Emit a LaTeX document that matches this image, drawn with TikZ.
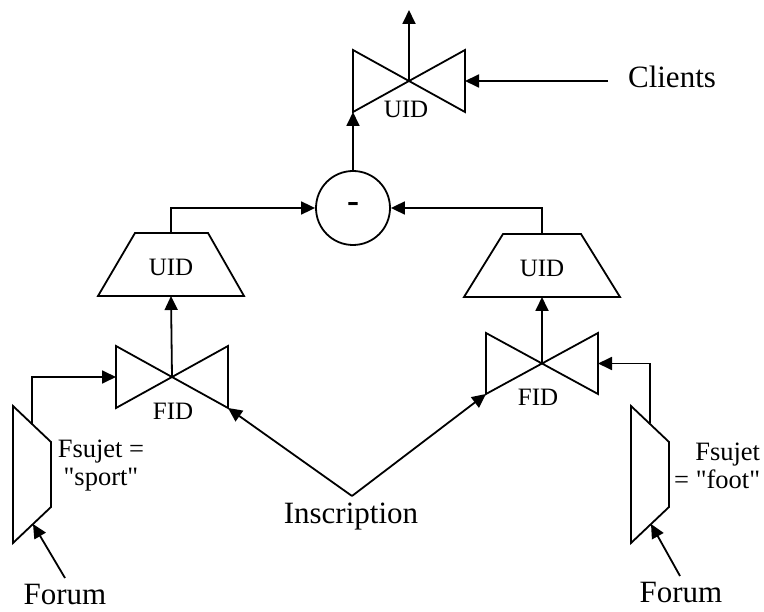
\documentclass[tikz,border=0pt]{standalone}
\usepackage{fontspec}
\setmainfont{Liberation Serif}[Ligatures=TeXOff]
\usetikzlibrary{arrows.meta}
\begin{document}
\begin{tikzpicture}[x=1pt,y=-1pt,line width=1.8pt,line join=miter,
  arr/.style={-{Triangle[length=14pt,width=13pt]}},
  big/.style={font=\fontsize{31}{36}\selectfont,inner sep=0pt},
  small/.style={font=\fontsize{25}{28}\selectfont,inner sep=0pt},
  cond/.style={font=\fontsize{26.5}{28}\selectfont,inner sep=0pt}]
\useasboundingbox (0,0) rectangle (764,612);

% top bowtie (UID)
\draw (353,50)--(465,112)--(465,50)--(353,112)--cycle;
\coordinate (tc) at (409,81);
\coordinate (tbl) at (353,112);
\coordinate (tr) at (465,81);
\coordinate (ttop) at (409,10);
\node[small] (tuid) at (406,109) {UID};
\draw[arr] (tc) -- (ttop);
\node[big] (cl) at (672,77) {Clients};
\coordinate (cls) at (608,81);
\draw[arr] (cls) -- (tr);

% difference
\node[circle,draw,minimum size=74pt,inner sep=0pt] (minus) at (353,208) {\fontsize{36}{40}\selectfont\textbf{-}};
\draw[arr] (minus.north) -- (tbl);

% left projection
\draw (135,233)--(208,233)--(244,296)--(98,296)--cycle;
\node[small] (luid) at (171,267) {UID};
\coordinate (ltop) at (171,233);
\coordinate (lbot) at (171,296);
\draw[arr] (ltop) |- (minus.west);

% right projection
\draw (503,234)--(581,234)--(620,297)--(464,297)--cycle;
\node[small] (ruid) at (542,268) {UID};
\coordinate (rtop) at (542,234);
\coordinate (rbot) at (542,297);
\draw[arr] (rtop) |- (minus.east);

% left join (FID)
\draw (116,346)--(228,408)--(228,346)--(116,408)--cycle;
\coordinate (lc) at (172,377);
\coordinate (lbl) at (116,377);
\coordinate (lbr) at (228,408);
\node[small] (lfid) at (173,411) {FID};
\draw[arr] (lc) -- (lbot);

% right join (FID)
\draw (486,333)--(598,394)--(598,333)--(486,394)--cycle;
\coordinate (rc) at (542,363.5);
\coordinate (rbr) at (598,363.5);
\coordinate (rbl) at (486,394);
\node[small] (rfid) at (538,397) {FID};
\draw[arr] (rc) -- (rbot);

% left selection
\draw (13,406)--(51,442)--(51,507)--(13,543)--cycle;
\coordinate (lsout) at (32,424);
\coordinate (lsin) at (33,524);
\draw[arr] (lsout) |- (lbl);
\node[cond,align=center] (lsel) at (101,466) {Fsujet =\\"sport"};

% right selection
\draw (631,406)--(669,442)--(669,507)--(631,543)--cycle;
\coordinate (rsout) at (650,423);
\coordinate (rsin) at (651,524);
\draw[arr] (rsout) |- (rbr);
\node[cond,align=right,anchor=east] (rsel) at (761,466) {Fsujet\\= "foot"};

% Forum inputs
\node[big] (lforum) at (65,595) {Forum};
\coordinate (lfs) at (65,578);
\draw[arr] (lfs) -- (lsin);
\node[big] (rforum) at (681,593) {Forum};
\coordinate (rfs) at (680,576);
\draw[arr] (rfs) -- (rsin);

% Inscription
\node[big] (ins) at (351,517) {Inscription};
\coordinate (apex) at (352,496);
\draw[arr] (apex) -- (lbr);
\draw[arr] (apex) -- (rbl);
\end{tikzpicture}
\end{document}
